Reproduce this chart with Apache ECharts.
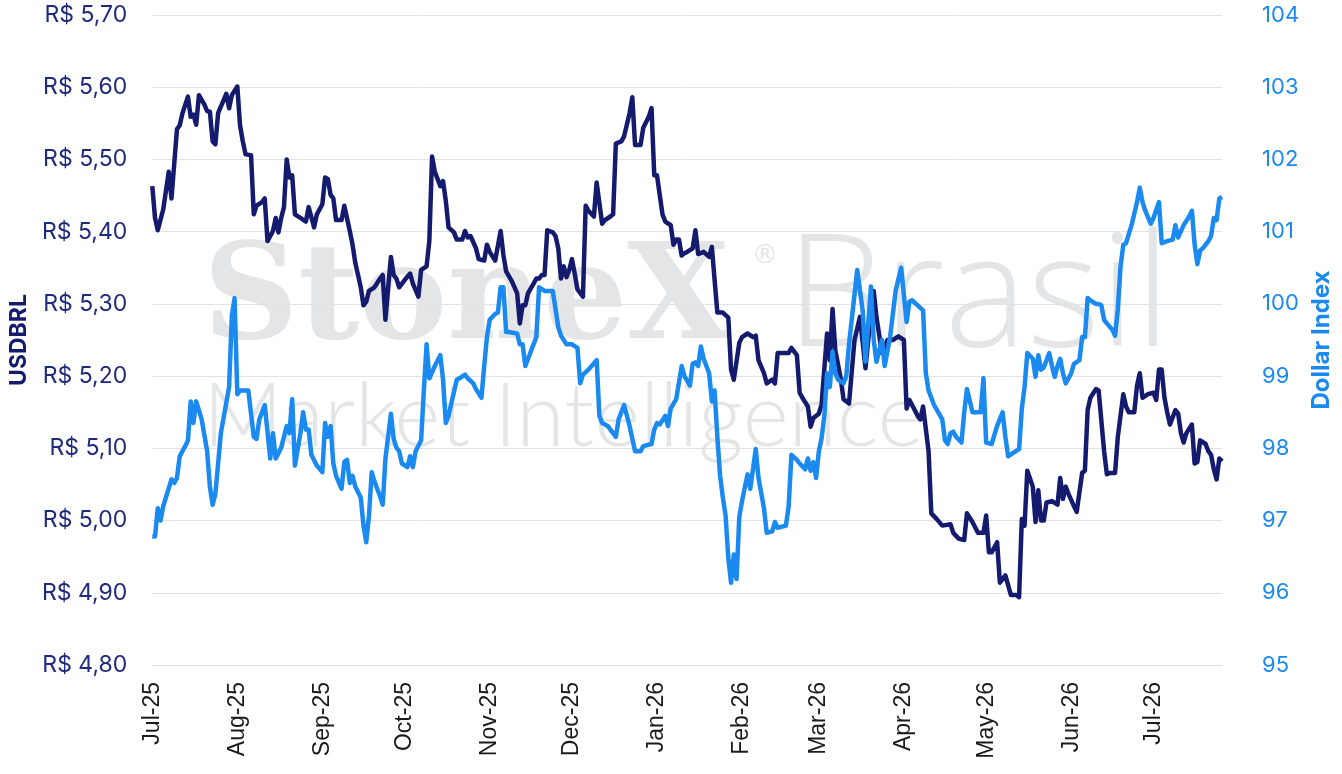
<!DOCTYPE html>
<html>
<head>
<meta charset="utf-8">
<script src="https://cdn.jsdelivr.net/npm/echarts@6/dist/echarts.min.js"></script>
<style>
html, body { margin: 0; padding: 0; background: #ffffff; }
#chart { width: 1342px; height: 774px; }
</style>
</head>
<body>
<div id="chart"></div>
<script>
var monthNames = ["Jan", "Feb", "Mar", "Apr", "May", "Jun", "Jul", "Aug", "Sep", "Oct", "Nov", "Dec"];

// USDBRL (eixo esquerdo)
var usdbrlDates = [
    "2025-07-01","2025-07-02","2025-07-03","2025-07-05","2025-07-07","2025-07-08","2025-07-10","2025-07-11","2025-07-12","2025-07-14",
    "2025-07-15","2025-07-16","2025-07-17","2025-07-18","2025-07-20","2025-07-21","2025-07-22","2025-07-23","2025-07-24","2025-07-25",
    "2025-07-28","2025-07-29","2025-07-30","2025-08-01","2025-08-02","2025-08-03","2025-08-04","2025-08-06","2025-08-07","2025-08-08",
    "2025-08-10","2025-08-11","2025-08-12","2025-08-14","2025-08-15","2025-08-16","2025-08-17","2025-08-18","2025-08-19","2025-08-20",
    "2025-08-21","2025-08-22","2025-08-24","2025-08-26","2025-08-27","2025-08-29","2025-08-30","2025-09-01","2025-09-02","2025-09-03",
    "2025-09-04","2025-09-05","2025-09-06","2025-09-08","2025-09-09","2025-09-11","2025-09-12","2025-09-13","2025-09-14","2025-09-15",
    "2025-09-16","2025-09-17","2025-09-18","2025-09-20","2025-09-22","2025-09-23","2025-09-24","2025-09-25","2025-09-26","2025-09-27",
    "2025-09-28","2025-09-29","2025-10-01","2025-10-03","2025-10-04","2025-10-06","2025-10-07","2025-10-09","2025-10-10","2025-10-11",
    "2025-10-12","2025-10-14","2025-10-15","2025-10-16","2025-10-17","2025-10-19","2025-10-20","2025-10-22","2025-10-23","2025-10-24",
    "2025-10-25","2025-10-27","2025-10-28","2025-10-30","2025-10-31","2025-11-01","2025-11-03","2025-11-05","2025-11-06","2025-11-07",
    "2025-11-09","2025-11-11","2025-11-12","2025-11-13","2025-11-14","2025-11-15","2025-11-17","2025-11-18","2025-11-19","2025-11-20",
    "2025-11-21","2025-11-22","2025-11-24","2025-11-25","2025-11-26","2025-11-27","2025-11-28","2025-11-29","2025-11-30","2025-12-01",
    "2025-12-02","2025-12-03","2025-12-05","2025-12-06","2025-12-07","2025-12-09","2025-12-10","2025-12-12","2025-12-13","2025-12-15",
    "2025-12-16","2025-12-17","2025-12-19","2025-12-20","2025-12-22","2025-12-23","2025-12-24","2025-12-25","2025-12-26","2025-12-27",
    "2025-12-29","2025-12-30","2025-12-31","2026-01-01","2026-01-03","2026-01-04","2026-01-06","2026-01-07","2026-01-08","2026-01-09",
    "2026-01-10","2026-01-11","2026-01-12","2026-01-14","2026-01-15","2026-01-16","2026-01-18","2026-01-20","2026-01-21","2026-01-22",
    "2026-01-23","2026-01-25","2026-01-27","2026-01-28","2026-01-29","2026-01-31","2026-02-01","2026-02-03","2026-02-05","2026-02-06",
    "2026-02-07","2026-02-09","2026-02-10","2026-02-12","2026-02-13","2026-02-14","2026-02-16","2026-02-18","2026-02-19","2026-02-21",
    "2026-02-22","2026-02-23","2026-02-25","2026-02-26","2026-02-27","2026-03-01","2026-03-02","2026-03-04","2026-03-05","2026-03-06",
    "2026-03-07","2026-03-09","2026-03-10","2026-03-12","2026-03-14","2026-03-16","2026-03-18","2026-03-19","2026-03-21","2026-03-22",
    "2026-03-24","2026-03-26","2026-03-28","2026-03-30","2026-04-01","2026-04-02","2026-04-03","2026-04-04","2026-04-06","2026-04-07",
    "2026-04-08","2026-04-10","2026-04-11","2026-04-13","2026-04-15","2026-04-18","2026-04-19","2026-04-21","2026-04-23","2026-04-24",
    "2026-04-26","2026-04-28","2026-04-30","2026-05-01","2026-05-02","2026-05-03","2026-05-05","2026-05-06","2026-05-08","2026-05-10",
    "2026-05-12","2026-05-13","2026-05-14","2026-05-15","2026-05-16","2026-05-18","2026-05-19","2026-05-20","2026-05-21","2026-05-22",
    "2026-05-23","2026-05-25","2026-05-27","2026-05-28","2026-05-29","2026-05-30","2026-05-31","2026-06-02","2026-06-03","2026-06-05",
    "2026-06-06","2026-06-07","2026-06-08","2026-06-10","2026-06-11","2026-06-13","2026-06-14","2026-06-15","2026-06-17","2026-06-18",
    "2026-06-20","2026-06-21","2026-06-22","2026-06-24","2026-06-25","2026-06-26","2026-06-27","2026-06-29","2026-07-01","2026-07-02",
    "2026-07-03","2026-07-04","2026-07-05","2026-07-06","2026-07-07","2026-07-09","2026-07-10","2026-07-11","2026-07-12","2026-07-13",
    "2026-07-15","2026-07-16","2026-07-17","2026-07-18","2026-07-20","2026-07-21","2026-07-22","2026-07-23","2026-07-24","2026-07-25",
    "2026-07-26"
];
var usdbrlValues = [
    5.463,5.419,5.402,5.431,5.483,5.446,5.542,5.547,5.564,5.587,
    5.559,5.562,5.548,5.589,5.576,5.567,5.566,5.525,5.521,5.564,
    5.591,5.571,5.589,5.601,5.547,5.525,5.507,5.506,5.424,5.436,
    5.441,5.446,5.387,5.401,5.419,5.399,5.419,5.434,5.500,5.475,
    5.478,5.424,5.419,5.414,5.434,5.406,5.424,5.438,5.475,5.473,
    5.451,5.446,5.416,5.416,5.436,5.401,5.382,5.357,5.340,5.323,
    5.298,5.303,5.318,5.323,5.335,5.340,5.278,5.323,5.365,5.340,
    5.335,5.323,5.333,5.342,5.328,5.310,5.347,5.352,5.387,5.504,
    5.483,5.463,5.470,5.443,5.406,5.399,5.389,5.389,5.401,5.392,
    5.394,5.377,5.362,5.360,5.382,5.372,5.360,5.401,5.368,5.345,
    5.332,5.315,5.273,5.298,5.298,5.315,5.328,5.335,5.335,5.340,
    5.340,5.402,5.399,5.394,5.377,5.335,5.352,5.337,5.347,5.362,
    5.342,5.320,5.310,5.436,5.429,5.421,5.468,5.411,5.416,5.421,
    5.424,5.522,5.525,5.532,5.564,5.586,5.520,5.520,5.520,5.544,
    5.559,5.571,5.478,5.478,5.424,5.414,5.409,5.382,5.389,5.389,
    5.367,5.370,5.372,5.377,5.402,5.369,5.372,5.365,5.379,5.333,
    5.288,5.288,5.281,5.209,5.195,5.246,5.254,5.259,5.254,5.256,
    5.222,5.204,5.190,5.195,5.190,5.232,5.232,5.232,5.239,5.229,
    5.177,5.170,5.158,5.130,5.142,5.148,5.161,5.259,5.222,5.293,
    5.236,5.196,5.168,5.162,5.250,5.282,5.211,5.250,5.318,5.282,
    5.232,5.250,5.250,5.255,5.250,5.155,5.167,5.160,5.145,5.140,
    5.158,5.096,5.010,5.002,4.993,4.995,4.983,4.975,4.973,5.010,
    4.998,4.983,4.983,5.007,4.956,4.956,4.970,4.914,4.924,4.897,
    4.897,4.894,5.002,4.993,5.069,5.047,4.998,5.042,5.000,5.000,
    5.025,5.027,5.022,5.059,5.030,5.047,5.037,5.020,5.012,5.066,
    5.069,5.153,5.170,5.182,5.180,5.096,5.064,5.066,5.066,5.116,
    5.175,5.158,5.150,5.150,5.187,5.204,5.170,5.175,5.177,5.167,
    5.209,5.209,5.170,5.150,5.133,5.153,5.148,5.121,5.108,5.121,
    5.133,5.079,5.081,5.111,5.106,5.096,5.091,5.071,5.057,5.086,
    5.082
];

// Dollar Index (eixo direito)
var dxyDates = [
    "2025-07-01","2025-07-02","2025-07-03","2025-07-04","2025-07-05","2025-07-08","2025-07-09","2025-07-10","2025-07-11","2025-07-13",
    "2025-07-14","2025-07-15","2025-07-16","2025-07-17","2025-07-19","2025-07-21","2025-07-22","2025-07-23","2025-07-24","2025-07-26",
    "2025-07-29","2025-07-30","2025-07-31","2025-08-01","2025-08-02","2025-08-05","2025-08-07","2025-08-08","2025-08-09","2025-08-11",
    "2025-08-13","2025-08-14","2025-08-15","2025-08-17","2025-08-19","2025-08-20","2025-08-21","2025-08-22","2025-08-24","2025-08-25",
    "2025-08-26","2025-08-27","2025-08-28","2025-08-30","2025-09-01","2025-09-02","2025-09-03","2025-09-04","2025-09-05","2025-09-06",
    "2025-09-08","2025-09-09","2025-09-10","2025-09-11","2025-09-12","2025-09-13","2025-09-15","2025-09-16","2025-09-17","2025-09-18",
    "2025-09-19","2025-09-20","2025-09-22","2025-09-23","2025-09-24","2025-09-26","2025-09-27","2025-09-28","2025-09-29","2025-09-30",
    "2025-10-02","2025-10-03","2025-10-04","2025-10-05","2025-10-07","2025-10-08","2025-10-09","2025-10-10","2025-10-12","2025-10-14",
    "2025-10-15","2025-10-16","2025-10-17","2025-10-20","2025-10-21","2025-10-23","2025-10-24","2025-10-26","2025-10-27","2025-10-29",
    "2025-10-30","2025-10-31","2025-11-01","2025-11-03","2025-11-04","2025-11-05","2025-11-06","2025-11-07","2025-11-08","2025-11-11",
    "2025-11-12","2025-11-13","2025-11-14","2025-11-16","2025-11-18","2025-11-19","2025-11-21","2025-11-24","2025-11-26","2025-11-27",
    "2025-11-29","2025-12-01","2025-12-03","2025-12-04","2025-12-05","2025-12-07","2025-12-10","2025-12-11","2025-12-12","2025-12-14",
    "2025-12-17","2025-12-18","2025-12-20","2025-12-22","2025-12-24","2025-12-26","2025-12-27","2025-12-30","2025-12-31","2026-01-01",
    "2026-01-02","2026-01-04","2026-01-05","2026-01-06","2026-01-08","2026-01-10","2026-01-11","2026-01-13","2026-01-14","2026-01-15",
    "2026-01-16","2026-01-17","2026-01-18","2026-01-20","2026-01-21","2026-01-22","2026-01-23","2026-01-24","2026-01-25","2026-01-26",
    "2026-01-27","2026-01-28","2026-01-29","2026-01-30","2026-01-31","2026-02-01","2026-02-03","2026-02-04","2026-02-06","2026-02-07",
    "2026-02-09","2026-02-10","2026-02-12","2026-02-13","2026-02-14","2026-02-17","2026-02-18","2026-02-19","2026-02-21","2026-02-22",
    "2026-02-24","2026-02-25","2026-02-26","2026-02-27","2026-02-28","2026-03-01","2026-03-02","2026-03-03","2026-03-04","2026-03-05",
    "2026-03-06","2026-03-07","2026-03-08","2026-03-10","2026-03-11","2026-03-12","2026-03-15","2026-03-17","2026-03-18","2026-03-20",
    "2026-03-21","2026-03-22","2026-03-24","2026-03-25","2026-03-27","2026-03-29","2026-03-31","2026-04-02","2026-04-03","2026-04-04",
    "2026-04-06","2026-04-08","2026-04-09","2026-04-10","2026-04-12","2026-04-15","2026-04-16","2026-04-17","2026-04-18","2026-04-19",
    "2026-04-20","2026-04-22","2026-04-23","2026-04-24","2026-04-26","2026-04-29","2026-04-30","2026-05-01","2026-05-03","2026-05-05",
    "2026-05-07","2026-05-08","2026-05-09","2026-05-11","2026-05-13","2026-05-14","2026-05-15","2026-05-16","2026-05-18","2026-05-19",
    "2026-05-20","2026-05-21","2026-05-22","2026-05-24","2026-05-25","2026-05-26","2026-05-27","2026-05-28","2026-05-29","2026-05-30",
    "2026-06-01","2026-06-02","2026-06-04","2026-06-05","2026-06-06","2026-06-07","2026-06-08","2026-06-10","2026-06-11","2026-06-12",
    "2026-06-13","2026-06-14","2026-06-16","2026-06-17","2026-06-18","2026-06-19","2026-06-20","2026-06-21","2026-06-22","2026-06-23",
    "2026-06-25","2026-06-26","2026-06-27","2026-06-28","2026-06-30","2026-07-01","2026-07-03","2026-07-04","2026-07-06","2026-07-08",
    "2026-07-09","2026-07-10","2026-07-12","2026-07-14","2026-07-15","2026-07-16","2026-07-17","2026-07-18","2026-07-19","2026-07-21",
    "2026-07-22","2026-07-23","2026-07-24","2026-07-25","2026-07-26"
];
var dxyValues = [
    96.78,96.78,97.17,97.00,97.20,97.57,97.52,97.59,97.89,98.03,
    98.11,98.65,98.35,98.65,98.40,97.96,97.47,97.22,97.37,98.21,
    98.85,99.83,100.08,98.75,98.80,98.80,98.16,98.13,98.40,98.60,
    97.86,98.21,97.86,98.01,98.31,98.21,98.68,97.76,98.21,98.50,
    98.26,98.26,97.91,97.76,97.67,98.35,98.16,98.31,97.79,97.62,
    97.44,97.81,97.84,97.52,97.62,97.47,97.32,96.93,96.70,97.07,
    97.67,97.54,97.34,97.22,97.86,98.48,98.13,98.01,97.96,97.79,
    97.74,97.89,97.74,97.96,98.11,98.80,99.44,98.97,99.14,99.29,
    98.95,98.35,98.45,98.95,98.97,99.02,98.97,98.90,98.82,98.70,
    99.14,99.54,99.78,99.86,99.88,100.23,100.23,99.61,99.61,99.59,
    99.44,99.44,99.14,99.34,99.54,100.23,100.18,100.18,99.68,99.56,
    99.44,99.44,99.39,98.90,99.02,99.09,99.22,98.45,98.35,98.31,
    98.16,98.40,98.60,98.31,97.96,97.96,98.03,98.06,98.26,98.35,
    98.33,98.45,98.31,98.55,98.68,99.14,99.00,98.87,99.17,99.19,
    99.14,99.41,99.24,99.04,98.65,98.80,98.16,97.62,97.32,97.07,
    96.48,96.14,96.53,96.19,97.05,97.27,97.64,97.44,97.99,97.59,
    97.17,96.83,96.85,96.98,96.90,96.93,97.20,97.91,97.84,97.79,
    97.71,97.86,97.69,97.81,97.59,97.96,98.14,98.45,99.04,98.85,
    99.34,99.04,98.95,98.90,99.00,99.44,100.47,99.90,99.20,100.24,
    99.50,99.20,99.50,99.14,99.55,100.18,100.50,99.75,100.03,100.05,
    99.98,99.91,99.04,98.80,98.60,98.40,98.11,98.06,98.21,98.23,
    98.16,98.08,98.50,98.82,98.50,98.50,98.97,98.08,98.06,98.31,
    98.50,98.16,97.89,97.94,97.99,98.55,98.85,99.32,99.24,98.99,
    99.29,99.09,99.12,99.32,99.14,98.99,99.14,99.24,99.04,98.90,
    99.04,99.17,99.22,99.54,99.54,100.08,100.05,100.00,100.00,99.98,
    99.78,99.73,99.64,99.56,99.93,100.52,100.82,100.84,100.97,101.09,
    101.41,101.61,101.41,101.29,101.11,101.19,101.41,100.84,100.87,100.89,
    101.09,100.92,101.09,101.21,101.29,100.82,100.55,100.74,100.77,100.87,
    100.94,101.19,101.16,101.46,101.48
];

var navy = "#141b6f";
var blue = "#1a8af0";

function pairs(dates, values){
    var out = [];
    for(var i = 0; i < dates.length; i++){
        out.push([dates[i], values[i]]);
    }
    return out;
}

var myChart = echarts.init(document.getElementById("chart"));
myChart.setOption({
    animation: false,
    backgroundColor: "#ffffff",
    grid: { left: 148, right: 113, top: 15, bottom: 109 },
    // marca d'agua
    graphic: [
        { type: "text", z: -10, silent: true,
          style: { x: 203, y: 304, text: "StoneX", fill: "#e4e5e7", font: "bold 132px 'DejaVu Serif'", verticalAlign: "middle" } },
        { type: "text", z: -10, silent: true,
          style: { x: 752, y: 256, text: "\u00ae", fill: "#e4e5e7", font: "26px 'DejaVu Sans'", verticalAlign: "middle" } },
        { type: "text", z: -10, silent: true,
          style: { x: 786, y: 302, text: "Brasil", fill: "#e4e5e7", font: "300 156px 'Open Sans'", verticalAlign: "middle" } },
        { type: "text", z: -10, silent: true,
          style: { x: 203, y: 418, text: "Market Intelligence", fill: "#e4e5e7", font: "300 88px Lato", verticalAlign: "middle" } }
    ],
    xAxis: {
        type: "time",
        min: "2025-07-01",
        max: "2026-07-26",
        splitNumber: 13,
        minInterval: 28 * 24 * 3600 * 1000,
        maxInterval: 31 * 24 * 3600 * 1000,
        axisLine: { show: true, lineStyle: { color: "#dcdcdc", width: 1 } },
        axisTick: { show: false },
        splitLine: { show: false },
        axisLabel: {
            rotate: 90,
            margin: 17,
            showMaxLabel: false,
            color: "#1a1a1a",
            fontFamily: "Liberation Sans",
            fontSize: 23,
            formatter: function(value){
                var d = new Date(value);
                return monthNames[d.getMonth()] + "-" + String(d.getFullYear()).slice(2);
            }
        }
    },
    yAxis: [
        {
            type: "value",
            min: 4.8,
            max: 5.7,
            interval: 0.1,
            position: "left",
            name: "USDBRL",
            nameLocation: "middle",
            nameRotate: 90,
            nameGap: 110,
            nameTextStyle: { color: navy, fontFamily: "Inter", fontWeight: "bold", fontSize: 23 },
            axisLine: { show: false },
            axisTick: { show: false },
            splitLine: { show: true, lineStyle: { color: "#e2e2e2", width: 1 } },
            axisLabel: {
                margin: 25,
                color: "#1f2a7c",
                fontFamily: "Inter",
                fontSize: 23,
                formatter: function(v){
                    return "R$ " + v.toFixed(2).replace(".", ",");
                }
            }
        },
        {
            type: "value",
            min: 95,
            max: 104,
            interval: 1,
            position: "right",
            name: "Dollar Index",
            nameLocation: "middle",
            nameRotate: 90,
            nameGap: 61,
            nameTextStyle: { color: blue, fontFamily: "Inter", fontWeight: "bold", fontSize: 24 },
            axisLine: { show: false },
            axisTick: { show: false },
            splitLine: { show: false },
            axisLabel: {
                margin: 40,
                color: blue,
                fontFamily: "Inter",
                fontSize: 22
            }
        }
    ],
    series: [
        {
            name: "USDBRL",
            type: "line",
            yAxisIndex: 0,
            showSymbol: false,
            symbol: "none",
            lineStyle: { color: navy, width: 4.5, join: "round" },
            data: pairs(usdbrlDates, usdbrlValues)
        },
        {
            name: "Dollar Index",
            type: "line",
            yAxisIndex: 1,
            showSymbol: false,
            symbol: "none",
            lineStyle: { color: blue, width: 4.5, join: "round" },
            data: pairs(dxyDates, dxyValues)
        }
    ]
});
</script>
</body>
</html>
